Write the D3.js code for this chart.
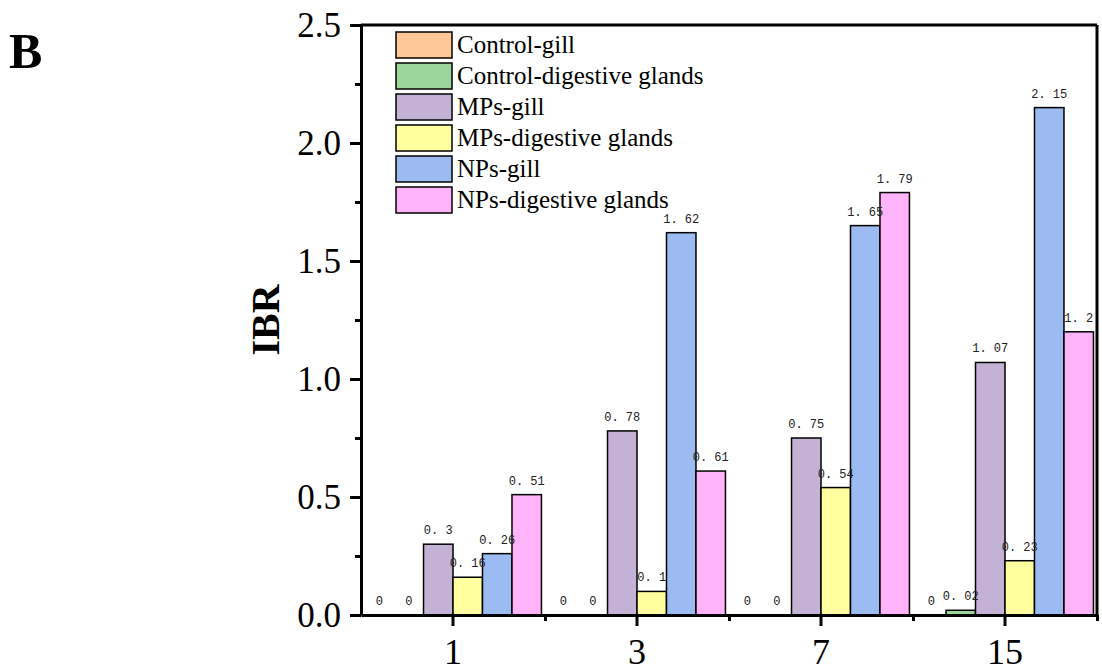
<!DOCTYPE html>
<html>
<head>
<meta charset="utf-8">
<title>IBR</title>
<script src="https://d3js.org/d3.v7.min.js"></script>
<style>
  body { margin: 0; background: #fff; }
  .axis path, .axis line { stroke: #000; }
  .vlab { font-family: "Liberation Mono", monospace; font-size: 12px; fill: #222; }
</style>
</head>
<body>
<div id="chart"></div>
<script>
// data
var days = ["1", "3", "7", "15"];
var groups = ["Control-gill", "Control-digestive glands", "MPs-gill",
              "MPs-digestive glands", "NPs-gill", "NPs-digestive glands"];
var colors = ["#ffc896", "#9bd79b", "#c3b2d6", "#ffffa0", "#9bbbf2", "#ffb3f8"];

var controlGill = [0, 0, 0, 0];
var controlDig  = [0, 0, 0, 0.02];
var mpsGill     = [0.3, 0.78, 0.75, 1.07];
var mpsDig      = [0.16, 0.1, 0.54, 0.23];
var npsGill     = [0.26, 1.62, 1.65, 2.15];
var npsDig      = [0.51, 0.61, 1.79, 1.2];

var yTicks = [0, 0.5, 1.0, 1.5, 2.0, 2.5];
var yMinor = [0.25, 0.75, 1.25, 1.75, 2.25];

var series = [controlGill, controlDig, mpsGill, mpsDig, npsGill, npsDig];

var width = 1102, height = 667;
var pLeft = 361, pRight = 1097, pTop = 25, pBottom = 615;

var svg = d3.select("#chart").append("svg")
    .attr("width", width)
    .attr("height", height);

var x = d3.scaleBand().domain(days).range([pLeft, pRight]).padding(0);
var xs = d3.scaleBand().domain(d3.range(groups.length))
    .range([0, x.bandwidth()]).paddingInner(0).paddingOuter(0.12);
var y = d3.scaleLinear().domain([0, 2.5]).range([pBottom, pTop]);

// bars
var rows = [];
days.forEach(function(d, i) {
  series.forEach(function(s, j) {
    rows.push({day: d, k: j, v: s[i]});
  });
});

svg.append("g").selectAll("rect")
    .data(rows)
    .enter().append("rect")
    .attr("x", function(d) { return x(d.day) + xs(d.k); })
    .attr("y", function(d) { return y(d.v); })
    .attr("width", xs.bandwidth())
    .attr("height", function(d) { return y(0) - y(d.v); })
    .attr("fill", function(d) { return colors[d.k]; })
    .attr("stroke", "#000")
    .attr("stroke-width", 1.5)
    .style("display", function(d) { return d.v > 0 ? null : "none"; });

svg.append("g").selectAll("text")
    .data(rows)
    .enter().append("text")
    .attr("class", "vlab")
    .attr("text-anchor", "middle")
    .attr("x", function(d) { return x(d.day) + xs(d.k) + xs.bandwidth() / 2; })
    .attr("y", function(d) { return y(d.v) - 10; })
    .text(function(d) { return String(d.v).replace(".", ". "); });

// frame (top + right)
svg.append("line").attr("x1", pLeft).attr("x2", pRight).attr("y1", pTop).attr("y2", pTop)
    .attr("stroke", "#000").attr("stroke-width", 3);
svg.append("line").attr("x1", pRight).attr("x2", pRight).attr("y1", pTop).attr("y2", pBottom)
    .attr("stroke", "#000").attr("stroke-width", 3);

// y axis
var yAxis = svg.append("g")
    .attr("class", "axis")
    .attr("transform", "translate(" + pLeft + ",0)")
    .call(d3.axisLeft(y).tickValues(yTicks).tickFormat(d3.format(".1f"))
      .tickSize(11).tickSizeOuter(0).tickPadding(9));
yAxis.select(".domain").attr("stroke-width", 3);
yAxis.selectAll(".tick line").attr("stroke-width", 3);
yAxis.selectAll("text")
    .attr("font-family", "'Liberation Serif', 'Times New Roman', serif")
    .attr("font-size", 35).attr("fill", "#000");

svg.append("g")
    .attr("class", "axis")
    .attr("transform", "translate(" + pLeft + ",0)")
    .call(d3.axisLeft(y).tickValues(yMinor).tickFormat("").tickSize(6).tickSizeOuter(0))
    .call(function(g) { g.select(".domain").remove(); })
    .selectAll("line").attr("stroke-width", 3);

// x axis
var xAxis = svg.append("g")
    .attr("class", "axis")
    .attr("transform", "translate(0," + pBottom + ")")
    .call(d3.axisBottom(x).tickSize(11).tickSizeOuter(0).tickPadding(12));
xAxis.select(".domain").attr("stroke-width", 3);
xAxis.selectAll(".tick line").attr("stroke-width", 3);
xAxis.selectAll("text")
    .attr("font-family", "'Liberation Serif', 'Times New Roman', serif")
    .attr("font-size", 36).attr("fill", "#000");

var bounds = days.map(function(d) { return x(d) + x.bandwidth(); });
svg.append("g")
    .attr("class", "axis")
    .attr("transform", "translate(0," + pBottom + ")")
    .call(d3.axisBottom(d3.scaleLinear().domain([pLeft, pRight]).range([pLeft, pRight]))
      .tickValues(bounds).tickFormat("").tickSize(6).tickSizeOuter(0))
    .call(function(g) { g.select(".domain").remove(); })
    .selectAll("line").attr("stroke-width", 3);

// axis title
svg.append("text")
    .attr("transform", "translate(279," + ((pTop + pBottom) / 2) + ") rotate(-90)")
    .attr("text-anchor", "middle")
    .attr("font-family", "'Liberation Serif', 'Times New Roman', serif")
    .attr("font-weight", "bold")
    .attr("font-size", 40)
    .text("IBR");

// panel letter
svg.append("text")
    .attr("x", 9).attr("y", 68)
    .attr("font-family", "'Liberation Serif', 'Times New Roman', serif")
    .attr("font-weight", "bold")
    .attr("font-size", 50)
    .text("B");

// legend
var legend = svg.append("g")
    .selectAll("g")
    .data(groups)
    .enter().append("g")
    .attr("transform", function(d, i) { return "translate(396," + (32 + i * 31) + ")"; });

legend.append("rect")
    .attr("width", 56)
    .attr("height", 26)
    .attr("fill", function(d, i) { return colors[i]; })
    .attr("stroke", "#000")
    .attr("stroke-width", 1.5);

legend.append("text")
    .attr("x", 61)
    .attr("y", 21)
    .attr("font-family", "'Liberation Serif', 'Times New Roman', serif")
    .attr("font-size", 25)
    .text(function(d) { return d; });
</script>
</body>
</html>
